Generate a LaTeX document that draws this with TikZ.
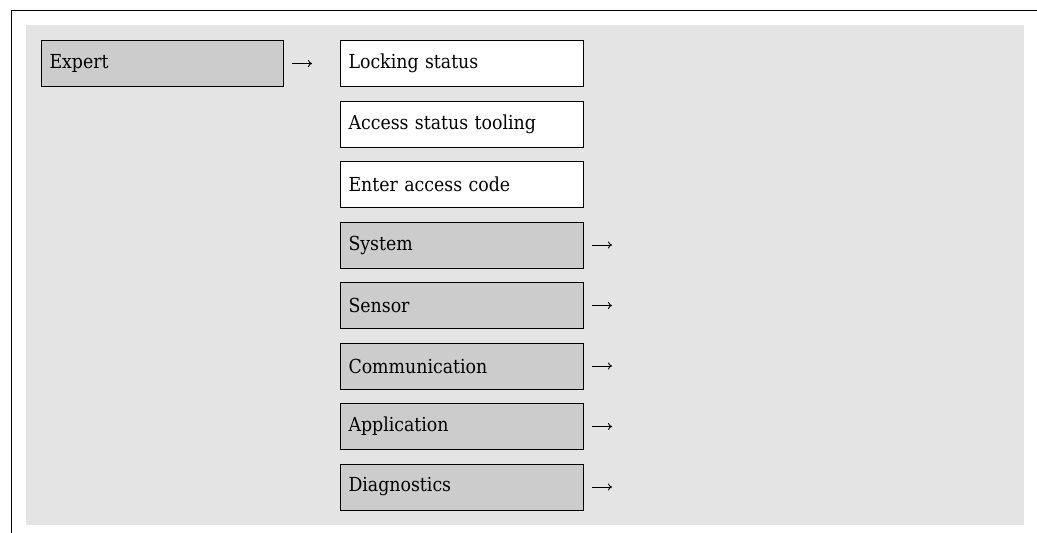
\documentclass[tikz,border=0pt]{standalone}
\usepackage{fontspec}
\setmainfont{DejaVu Serif Condensed}
\usetikzlibrary{calc,arrows.meta}
\definecolor{bggray}{HTML}{E4E4E4}
\definecolor{boxgray}{HTML}{CCCCCC}
\tikzset{
  menubox/.style={draw=black, line width=1pt, anchor=north west, minimum width=243pt, minimum height=46pt,
    text width=227pt, inner xsep=8pt, inner ysep=0pt, align=left,
    font=\fontsize{19.3}{22}\selectfont},
  submenu/.style={menubox, fill=boxgray},
  leaf/.style={menubox, fill=white},
  arr/.style={line width=0.9pt, -{To[length=4pt,width=7pt]}},
  frameline/.style={line width=1pt}
}
\begin{document}
\begin{tikzpicture}[x=1pt,y=-1pt]
\useasboundingbox (0,0) rectangle (1037,533);
\fill[bggray] (26,25) rectangle (1024,525);
\coordinate (ftop) at (1037,10);
\coordinate (fcorner) at (11,10);
\coordinate (fbot) at (11,533);
\draw[frameline] (ftop) -- (fcorner) -- (fbot);
\node[submenu, minimum width=242pt, text width=226pt] (expert) at (41,40) {Expert};
\node[leaf] (lock) at (340,40) {Locking status};
\node[leaf] (access) at (340,100.5) {Access status tooling};
\node[leaf] (code) at (340,161) {Enter access code};
\node[submenu] (system) at (340,221.5) {System};
\node[submenu] (sensor) at (340,282) {Sensor};
\node[submenu] (comm) at (340,342.5) {Communication};
\node[submenu] (app) at (340,403) {Application};
\node[submenu] (diag) at (340,463.5) {Diagnostics};
\draw[arr] ([xshift=8pt]expert.east) -- ([xshift=-28pt]lock.west);
\foreach \n in {system,sensor,comm,app,diag}{
  \coordinate (s-\n) at ([xshift=8pt]\n.east);
  \coordinate (e-\n) at ([xshift=28pt]\n.east);
  \draw[arr] (s-\n) -- (e-\n);
}
\end{tikzpicture}
\end{document}
